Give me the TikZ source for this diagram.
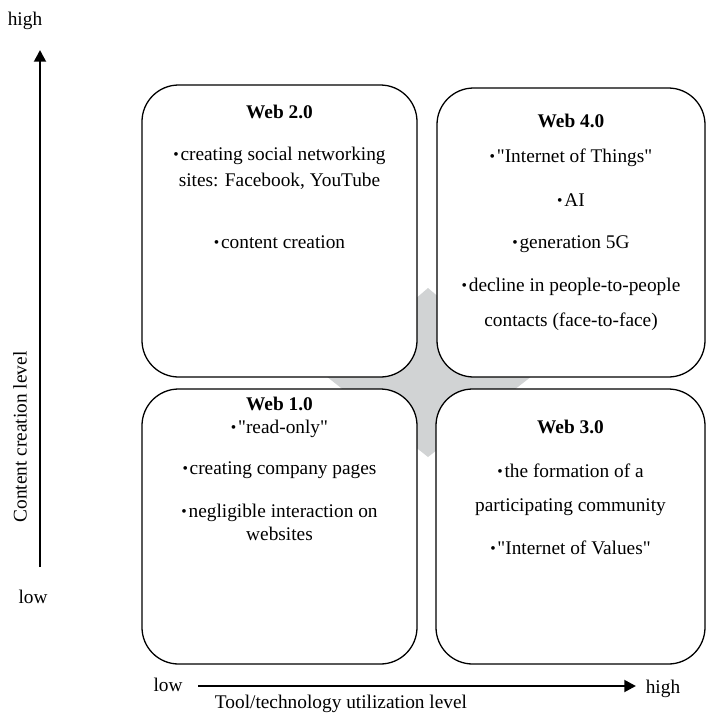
\documentclass[tikz,border=0pt]{standalone}
\usepackage{fontspec}
\setmainfont{Liberation Serif}
\usetikzlibrary{arrows.meta, positioning}
\definecolor{crossgray}{RGB}{209, 211, 212}
\newcommand{\itm}{\raisebox{0.1ex}{\scalebox{0.8}{•}}\hspace{1.5pt}}
\newcommand{\dq}{\textquotedbl}

\begin{document}
\begin{tikzpicture}[x=0.03cm, y=-0.03cm,
  webbox/.style={draw, line width=1.1pt, rounded corners=1.1cm, fill=white, inner sep=0pt},
  txt/.style={font=\fontsize{16.5}{19}\selectfont, anchor=base, inner sep=0pt},
  ttl/.style={txt, font=\fontsize{16.5}{19}\selectfont\bfseries},
  axis/.style={line width=2.3pt, -{Triangle[length=10pt, width=10pt]}},
]
\useasboundingbox (0,0) rectangle (707,714);

% Gray cross behind the boxes
\fill[crossgray] (428,288) -- (532,376) -- (428,457) -- (326,376) -- cycle;

% Four boxes
\node[webbox, minimum width=8.25cm, minimum height=8.76cm] (w2) at (279.5,231) {};
\node[webbox, minimum width=8.04cm, minimum height=8.67cm] (w4) at (571,232.5) {};
\node[webbox, minimum width=8.25cm, minimum height=8.25cm] (w1) at (279.5,526.5) {};
\node[webbox, minimum width=8.07cm, minimum height=8.25cm] (w3) at (570.5,526.5) {};

% Web 2.0
\node[ttl] (w2t) at (279.5,118) {Web 2.0};
\node[txt] (w2a) at (279.5,160) {\itm creating social networking};
\node[txt] (w2b) at (279.5,186) {sites: Facebook, YouTube};
\node[txt] (w2c) at (279.5,248) {\itm content creation};

% Web 4.0
\node[ttl] (w4t) at (571,127) {Web 4.0};
\node[txt] (w4a) at (571,162) {\itm \dq Internet of Things\dq};
\node[txt] (w4b) at (571,206) {\itm AI};
\node[txt] (w4c) at (571,248) {\itm generation 5G};
\node[txt] (w4d) at (571,291) {\itm decline in people-to-people};
\node[txt] (w4e) at (571,326) {contacts (face-to-face)};

% Web 1.0
\node[ttl] (w1t) at (279.5,410) {Web 1.0};
\node[txt] (w1a) at (279.5,433) {\itm \dq read-only\dq};
\node[txt] (w1b) at (279.5,474) {\itm creating company pages};
\node[txt] (w1c) at (279.5,517) {\itm negligible interaction on};
\node[txt] (w1d) at (279.5,540) {websites};

% Web 3.0
\node[ttl] (w3t) at (570.5,433) {Web 3.0};
\node[txt] (w3a) at (570.5,477) {\itm the formation of a};
\node[txt] (w3b) at (570.5,511) {participating community};
\node[txt] (w3c) at (570.5,554) {\itm \dq Internet of Values\dq};

% Vertical axis
\coordinate (ybot) at (40,567);
\coordinate (ytop) at (40,50);
\draw[axis] (ybot) -- (ytop);
\node[txt, anchor=center] (yhigh) at (25,21) {high};
\node[txt, anchor=center] (ylow) at (33,597) {low};
\node[txt, anchor=center, rotate=90] (ylab) at (20,437) {Content creation level};

% Horizontal axis
\coordinate (xleft) at (198,686);
\coordinate (xright) at (636,686);
\draw[axis] (xleft) -- (xright);
\node[txt, anchor=center] (xlow) at (168,685) {low};
\node[txt, anchor=center] (xhigh) at (663,689) {high};
\node[txt, anchor=center] (xlab) at (341,704) {Tool/technology utilization level};
\end{tikzpicture}
\end{document}
